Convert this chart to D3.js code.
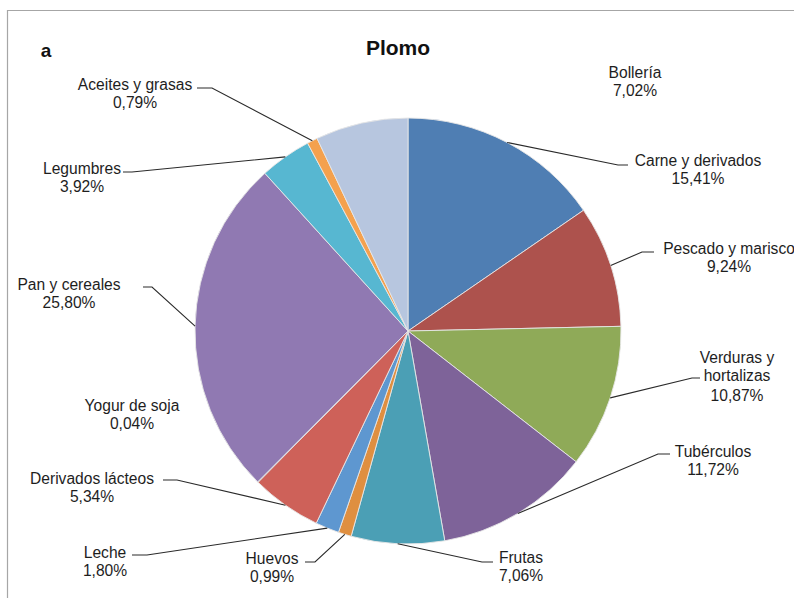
<!DOCTYPE html>
<html>
<head>
<meta charset="utf-8">
<script src="https://cdn.jsdelivr.net/npm/d3@7"></script>
<style>
  html, body { margin: 0; padding: 0; background: #fff; }
  svg { display: block; }
</style>
</head>
<body>
<svg id="chart" width="794" height="598"></svg>
<script>
// ---- data ----
const categories = ["Carne y derivados", "Pescado y marisco", "Verduras y hortalizas", "Tubérculos", "Frutas", "Huevos", "Leche", "Derivados lácteos", "Yogur de soja", "Pan y cereales", "Legumbres", "Aceites y grasas", "Bollería"];
const values = [15.41, 9.24, 10.87, 11.72, 7.06, 0.99, 1.80, 5.34, 0.04, 25.80, 3.92, 0.79, 7.02];
const percentLabels = ["15,41%", "9,24%", "10,87%", "11,72%", "7,06%", "0,99%", "1,80%", "5,34%", "0,04%", "25,80%", "3,92%", "0,79%", "7,02%"];
const title = "Plomo";
const panelLetter = "a";

// ---- styles ----
const colors = ["#4F7EB3", "#AD524D", "#8FAA58", "#7E6399", "#4B9FB5", "#DF8F40", "#5E97D0", "#CE6159", "#A8C26E", "#9079B2", "#57B7D1", "#F4A14E", "#B7C6DF"];

// ---- layout (label placement: text centre, line break, leader elbow) ----
const labelLayout = [
  { lines: ["Carne y derivados"], tx: 698, ty: 160, elbow: [618, 165], end: 628 },
  { lines: ["Pescado y marisco"], tx: 729, ty: 248, elbow: [642, 252], end: 654 },
  { lines: ["Verduras y", "hortalizas"], tx: 737, ty: 357, elbow: [692, 378], end: 700 },
  { lines: ["Tubérculos"], tx: 713, ty: 451, elbow: [658, 454], end: 670 },
  { lines: ["Frutas"], tx: 521, ty: 557, elbow: [482, 562], end: 493 },
  { lines: ["Huevos"], tx: 272, ty: 558, elbow: [315, 562], end: 305 },
  { lines: ["Leche"], tx: 105, ty: 552, elbow: [147, 555], end: 132 },
  { lines: ["Derivados lácteos"], tx: 92, ty: 478, elbow: [177, 480], end: 163 },
  { lines: ["Yogur de soja"], tx: 132, ty: 405, elbow: null },
  { lines: ["Pan y cereales"], tx: 69, ty: 284, elbow: [152, 287], end: 143 },
  { lines: ["Legumbres"], tx: 82, ty: 168, elbow: [132, 172], end: 123 },
  { lines: ["Aceites y grasas"], tx: 135, ty: 84, elbow: [212, 88], end: 197 },
  { lines: ["Bollería"], tx: 635, ty: 72, elbow: null }
];

const W = 794, H = 598;
const cx = 408, cy = 331, R = 213;
const fontSize = 15.6, lineH = 18.5;

const svg = d3.select("#chart");

// frame
svg.append("path")
  .attr("d", `M7.5,${H} L7.5,10.5 L${W},10.5`)
  .attr("fill", "none").attr("stroke", "#a6a6a6").attr("stroke-width", 1.2);

// title + panel letter
svg.append("text").attr("x", 398).attr("y", 55)
  .attr("text-anchor", "middle")
  .attr("font-family", "Liberation Sans, Arial, sans-serif")
  .attr("font-weight", "bold").attr("font-size", 21).attr("fill", "#111")
  .text(title);
svg.append("text").attr("x", 46).attr("y", 57)
  .attr("text-anchor", "middle")
  .attr("font-family", "Liberation Sans, Arial, sans-serif")
  .attr("font-weight", "bold").attr("font-size", 19).attr("fill", "#111")
  .text(panelLetter);

const data = categories.map((c, i) => ({ cat: c, value: values[i], pct: percentLabels[i], color: colors[i], layout: labelLayout[i] }));

const pie = d3.pie().sort(null).value(d => d.value).startAngle(0).endAngle(2 * Math.PI);
const arcs = pie(data);
const arc = d3.arc().innerRadius(0).outerRadius(R);

const g = svg.append("g").attr("transform", `translate(${cx},${cy})`);
g.selectAll("path.slice").data(arcs).enter().append("path")
  .attr("class", "slice")
  .attr("d", arc)
  .attr("fill", d => d.data.color)
  .attr("stroke", "#e6e6e6").attr("stroke-width", 0.9);

// leader lines
const lineGen = d3.line();
arcs.forEach(a => {
  const L = a.data.layout;
  if (!L.elbow) return;
  const mid = (a.startAngle + a.endAngle) / 2;
  const px = cx + R * Math.sin(mid), py = cy - R * Math.cos(mid);
  svg.append("path")
    .attr("d", lineGen([[px, py], L.elbow, [L.end, L.elbow[1]]]))
    .attr("fill", "none").attr("stroke", "#2a2a2a").attr("stroke-width", 1.1);
});

// labels
arcs.forEach(a => {
  const L = a.data.layout;
  const lines = L.lines.concat([a.data.pct]);
  const t = svg.append("text")
    .attr("text-anchor", "middle")
    .attr("font-family", "Liberation Sans, Arial, sans-serif")
    .attr("font-size", fontSize).attr("fill", "#1e1e1e");
  lines.forEach((ln, k) => {
    t.append("tspan").attr("x", L.tx).attr("y", L.ty + k * lineH + (k === lines.length - 1 && lines.length > 2 ? 1.5 : 0))
      .attr("dy", "0.36em").text(ln);
  });
});
</script>
</body>
</html>
